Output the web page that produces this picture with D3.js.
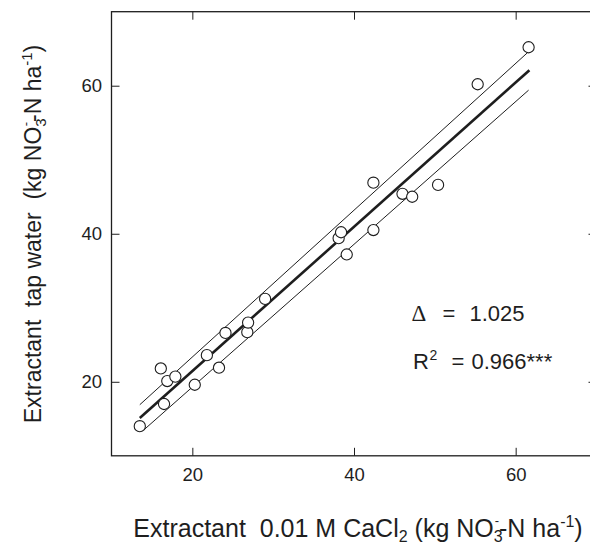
<!DOCTYPE html>
<html>
<head>
<meta charset="utf-8">
<script src="https://cdn.jsdelivr.net/npm/d3@7"></script>
<style>
  html, body { margin: 0; padding: 0; background: #fff; }
  svg text { font-family: "Liberation Sans", Arial, Helvetica, sans-serif; fill: #1e1e1e; white-space: pre; }
</style>
</head>
<body>
<svg id="chart" width="590" height="551"></svg>
<script>
// ---- data ----
const xValues = [13.5, 16.5, 16.1, 16.9, 17.9, 20.3, 21.8, 23.3, 24.1, 26.8, 26.9, 29.0,
                 38.1, 38.4, 39.1, 42.4, 42.4, 46.0, 47.2, 50.4, 55.3, 61.6];
const yValues = [14.0, 17.0, 21.8, 20.1, 20.7, 19.6, 23.6, 21.9, 26.6, 26.7, 28.0, 31.2,
                 39.4, 40.2, 37.2, 40.5, 46.9, 45.4, 45.0, 46.6, 60.2, 65.2];
const fitX = [13.5, 61.7];
const fitY = [15.1, 62.1];
const upperX = [13.5, 61.5];
const upperY = [16.9, 64.5];
const lowerX = [14.0, 61.6];
const lowerY = [13.5, 59.4];
const xTicks = [20, 40, 60];
const yTicks = [20, 40, 60];
const xDomain = [10, 70];
const yDomain = [10, 70];

(function () {
// ---- layout ----
const svg = d3.select("#chart");
const pL = 111.5, pR = 596.5, pT = 11.7, pB = 455.8;
const x = d3.scaleLinear().domain(xDomain).range([pL, pR]);
const y = d3.scaleLinear().domain(yDomain).range([pB, pT]);
const ink = "#1e1e1e";

// frame
svg.append("rect")
  .attr("x", pL).attr("y", pT)
  .attr("width", pR - pL).attr("height", pB - pT)
  .attr("fill", "none").attr("stroke", ink).attr("stroke-width", 1.3);

function styleAxis(g) {
  g.select(".domain").remove();
  g.selectAll(".tick line").attr("stroke", ink).attr("stroke-width", 1);
  g.selectAll(".tick text").attr("font-size", 18.5).attr("fill", ink)
   .attr("font-family", "Liberation Sans, Arial, sans-serif");
}

svg.append("g").attr("transform", `translate(0,${pB})`)
  .call(d3.axisBottom(x).tickValues(xTicks).tickSizeInner(-8).tickSizeOuter(0).tickPadding(12).tickFormat(d3.format("d")))
  .call(styleAxis);
svg.append("g").attr("transform", `translate(0,${pT})`)
  .call(d3.axisTop(x).tickValues(xTicks).tickSizeInner(-8).tickSizeOuter(0).tickFormat(""))
  .call(styleAxis);
svg.append("g").attr("transform", `translate(${pL},0)`)
  .call(d3.axisLeft(y).tickValues(yTicks).tickSizeInner(-8).tickSizeOuter(0).tickPadding(9.5).tickFormat(d3.format("d")))
  .call(styleAxis);
svg.append("g").attr("transform", `translate(${pR},0)`)
  .call(d3.axisRight(y).tickValues(yTicks).tickSizeInner(-8).tickSizeOuter(0).tickFormat(""))
  .call(styleAxis);

// lines
const line = d3.line().x(d => x(d[0])).y(d => y(d[1]));
const mk = (xs, ys) => xs.map((v, i) => [v, ys[i]]);
svg.append("path").datum(mk(upperX, upperY)).attr("d", line)
  .attr("fill", "none").attr("stroke", ink).attr("stroke-width", 1);
svg.append("path").datum(mk(lowerX, lowerY)).attr("d", line)
  .attr("fill", "none").attr("stroke", ink).attr("stroke-width", 1);
svg.append("path").datum(mk(fitX, fitY)).attr("d", line)
  .attr("fill", "none").attr("stroke", ink).attr("stroke-width", 2.6);

// points
svg.append("g").selectAll("circle")
  .data(xValues.map((v, i) => [v, yValues[i]]))
  .join("circle")
  .attr("cx", d => x(d[0])).attr("cy", d => y(d[1])).attr("r", 5.6)
  .attr("fill", "#fff").attr("stroke", ink).attr("stroke-width", 1.1);

// annotations
const ann = svg.append("g");
ann.append("text").attr("x", 411.5).attr("y", 320.7).attr("font-size", 23)
  .style("font-family", "Liberation Serif, DejaVu Serif, serif").text("Δ");
ann.append("text").attr("x", 442.5).attr("y", 320.7).attr("font-size", 22).text("=");
ann.append("text").attr("x", 469.5).attr("y", 320.7).attr("font-size", 22).text("1.025");
ann.append("text").attr("x", 413).attr("y", 369.3).attr("font-size", 22).text("R");
ann.append("text").attr("x", 429.5).attr("y", 360).attr("font-size", 14).text("2");
ann.append("text").attr("x", 451.5).attr("y", 369.3).attr("font-size", 22).text("=");
ann.append("text").attr("x", 471.5).attr("y", 369.3).attr("font-size", 22).text("0.966***");

// axis titles
const xt = svg.append("text").attr("x", 358).attr("y", 537).attr("text-anchor", "middle").attr("font-size", 25);
xt.append("tspan").text("Extractant  0.01 M CaCl");
xt.append("tspan").attr("font-size", 16).attr("dy", 5).text("2");
xt.append("tspan").attr("dy", -5).text(" (kg NO");
xt.append("tspan").attr("font-size", 16).attr("dy", 5).text("3");
xt.append("tspan").attr("font-size", 13).attr("dx", -8).attr("dy", -17.5).text("-");
xt.append("tspan").attr("dy", 12.5).text("-N ha");
xt.append("tspan").attr("font-size", 16).attr("dy", -10).text("-1");
xt.append("tspan").attr("dy", 10).text(")");

const yt = svg.append("text").attr("transform", "translate(41,234) rotate(-90)")
  .attr("text-anchor", "middle").attr("font-size", 23);
yt.append("tspan").text("Extractant  tap water  (kg NO");
yt.append("tspan").attr("font-size", 15).attr("dy", 5).text("3");
yt.append("tspan").attr("font-size", 13).attr("dx", -8).attr("dy", -16.5).text("-");
yt.append("tspan").attr("dy", 11.5).text("-N ha");
yt.append("tspan").attr("font-size", 15).attr("dy", -9).text("-1");
yt.append("tspan").attr("dy", 9).text(")");
})();
</script>
</body>
</html>
